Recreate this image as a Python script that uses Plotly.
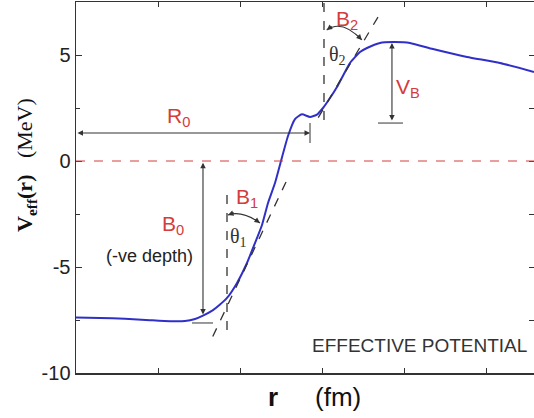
import plotly.graph_objects as go

# ---- data (x in tick units, V in MeV) ----
r_vals = [0.0, 0.292, 0.596, 0.900, 1.144, 1.326, 1.448, 1.545, 1.667, 1.752,
          1.837, 1.959, 2.080, 2.178, 2.263, 2.336, 2.421, 2.494, 2.579, 2.664,
          2.749, 2.847, 2.932, 3.005, 3.090, 3.175, 3.333, 3.455, 3.540, 3.698,
          3.856, 4.063, 4.343, 4.757, 5.158, 5.572]
v_eff = [-7.38, -7.40, -7.44, -7.51, -7.56, -7.55, -7.45, -7.29, -7.03, -6.77,
         -6.46, -5.75, -4.81, -3.87, -3.02, -1.98, -1.04, 0.0, 1.18, 1.98,
         2.20, 2.08, 2.19, 2.50, 2.97, 3.49, 4.62, 5.14, 5.33, 5.57,
         5.61, 5.57, 5.28, 4.91, 4.62, 4.20]
y_ticks = [-10, -5, 0, 5]
y_tick_labels = ["-10", "-5", "0", "5"]
x_ticks = [0, 1, 2, 3, 4, 5]

RED = "#d43c3c"
BLUE = "#3030c8"
DARK = "#333333"
GRAY = "#555555"
XR = [0, 5.572]
YR = [-10, 7.5]
SANS = "Liberation Sans, Arial, sans-serif"
SERIF = "Liberation Serif, Times New Roman, serif"

fig = go.Figure()
fig.add_trace(go.Scatter(x=r_vals, y=v_eff, mode="lines",
                         line=dict(color=BLUE, width=2, shape="spline", smoothing=0.5),
                         hoverinfo="skip", showlegend=False))

shapes = []
# zero line
shapes.append(dict(type="line", xref="paper", yref="y", x0=0, x1=1, y0=0, y1=0,
                   line=dict(color=RED, width=1, dash="dash")))
# dashed construction lines
for (x0, y0, x1, y1) in [(1.837, -1.60, 1.837, -8.30), (2.555, -0.99, 1.655, -8.35),
                         (3.017, 7.45, 3.017, 1.84), (3.674, 6.79, 2.908, 1.79)]:
    shapes.append(dict(type="line", x0=x0, y0=y0, x1=x1, y1=y1,
                       line=dict(color=DARK, width=1.3, dash="dash")))
# small solid guide lines
for (x0, y0, x1, y1) in [(2.847, 0.85, 2.847, 1.79), (1.411, -7.64, 1.667, -7.64),
                         (3.674, 1.79, 3.978, 1.79)]:
    shapes.append(dict(type="line", x0=x0, y0=y0, x1=x1, y1=y1,
                       line=dict(color=GRAY, width=1.2)))
# angle arcs
shapes.append(dict(type="path", path="M 1.849,-2.547 Q 2.019,-2.311 2.238,-2.925",
                   line=dict(color=DARK, width=1.1)))
shapes.append(dict(type="path", path="M 3.050,6.179 Q 3.236,6.698 3.478,5.708",
                   line=dict(color=DARK, width=1.1)))

ann = []
def arrow(x, y, ax, ay, side="end", color=DARK, size=1.0):
    ann.append(dict(x=x, y=y, ax=ax, ay=ay, axref="x", ayref="y", xref="x", yref="y",
                    text="", showarrow=True, arrowhead=2, arrowsize=size, arrowwidth=1.1,
                    arrowcolor=color, arrowside=side, standoff=0, startstandoff=0))
def parrow(x, y, ax, ay):
    ann.append(dict(x=x, y=y, ax=ax, ay=ay, xref="x", yref="y", text="", showarrow=True,
                    arrowhead=2, arrowsize=1.0, arrowwidth=1.1, arrowcolor=DARK))

arrow(2.847, 1.32, 0.0, 1.32, side="end+start")      # R0
arrow(1.545, -0.08, 1.545, -7.31, side="end+start")  # B0
arrow(3.844, 5.57, 3.844, 1.84, side="end+start")    # VB
parrow(1.849, -2.547, 7.5, -2.7)
parrow(2.238, -2.925, -6.5, -4.7)
parrow(3.050, 6.179, 6.5, -4.7)
parrow(3.478, 5.708, -5.5, -5.8)

def label(x, y, text, color=RED, size=20, family=SANS):
    ann.append(dict(x=x, y=y, xref="x", yref="y", text=text, showarrow=False,
                    xanchor="center", yanchor="middle",
                    font=dict(color=color, size=size, family=family)))

label(1.241, 2.08, "R<sub>0</sub>", size=21)
label(1.18, -3.02, "B<sub>0</sub>", size=21)
label(0.90, -4.48, "(-ve depth)", color="#222222", size=18)
label(2.080, -1.75, "B<sub>1</sub>", size=21)
label(1.971, -3.63, "θ<sub>1</sub>", color=DARK, size=20, family=SERIF)
label(3.297, 6.65, "B<sub>2</sub>", size=21)
label(3.187, 5.0, "θ<sub>2</sub>", color=DARK, size=20, family=SERIF)
label(4.04, 3.44, "V<sub>B</sub>", size=21)

def ptext(x, y, text, size, color="#111111", family=SANS, angle=0):
    ann.append(dict(xref="paper", yref="paper", x=x, y=y, text=text, showarrow=False,
                    xanchor="center", yanchor="middle", textangle=angle,
                    font=dict(size=size, color=color, family=family)))

ptext(0.751, 0.075, "EFFECTIVE POTENTIAL", 19, color=DARK)
ptext(0.430, -0.065, "<b>r</b>", 26)
ptext(0.572, -0.065, "(fm)", 26)
ptext(-0.109, 0.561, "<b>V<sub>eff</sub>(r)</b>\u00a0\u00a0\u00a0(MeV)", 22, family=SERIF, angle=-90)

fig.update_layout(
    width=534, height=418,
    margin=dict(l=76, r=0, t=2, b=45),
    paper_bgcolor="white", plot_bgcolor="white",
    shapes=shapes, annotations=ann, showlegend=False,
    xaxis=dict(range=XR, tickvals=x_ticks, showticklabels=False, ticks="inside", ticklen=5,
               tickcolor=DARK, showline=True, linecolor=DARK, linewidth=1.5, mirror="ticks",
               showgrid=False, zeroline=False),
    yaxis=dict(range=YR, tickvals=y_ticks, ticktext=y_tick_labels, ticks="inside", ticklen=6,
               tickcolor=DARK, showline=True, linecolor=DARK, linewidth=1.5, showgrid=False,
               zeroline=False, tickfont=dict(size=20, color="#222222", family=SANS),
               minor=dict(dtick=2.5, tick0=0, ticks="inside", ticklen=4, tickcolor=DARK)),
    yaxis2=dict(range=YR, overlaying="y", side="right", dtick=2.5, tick0=0, ticks="inside",
                ticklen=5, tickcolor=DARK, showticklabels=False, showline=False,
                showgrid=False, zeroline=False),
)
fig.add_trace(go.Scatter(x=[None], y=[None], yaxis="y2", showlegend=False, hoverinfo="skip"))

fig.write_html("out.html", config={"displayModeBar": False, "staticPlot": True},
               post_script="document.body.style.margin='0px';")
